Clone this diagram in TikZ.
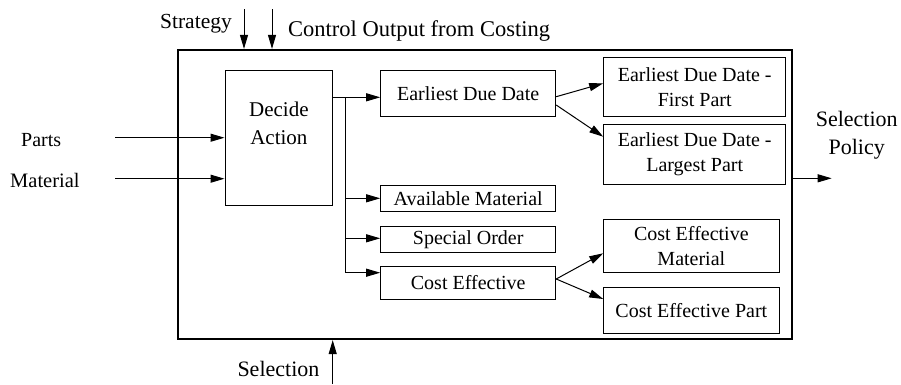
\documentclass[tikz,border=0pt]{standalone}
\usepackage{fontspec}
\setmainfont{Liberation Serif}
\usetikzlibrary{arrows.meta,calc}
\begin{document}
\begin{tikzpicture}[x=1bp,y=1bp,
  box/.style={draw, line width=1bp, rectangle, inner sep=0pt, align=center,
    font=\fontsize{20bp}{25bp}\selectfont},
  lbl/.style={inner sep=0pt},
  arr/.style={line width=1bp, -{Triangle[length=14bp,width=8bp]}},
  ln/.style={line width=1bp}]
\useasboundingbox (0,0) rectangle (901,-384);
% outer box
\node[draw, line width=2.2bp, minimum width=614bp, minimum height=289bp, inner sep=0pt] (outer) at (485,-194.5) {};
% inner boxes
\node[box, minimum width=107.7bp, minimum height=134.3bp] (decide) at (278.85,-137.85) {};
\node[inner sep=0pt, align=center, anchor=base, font=\fontsize{21bp}{27.6bp}\selectfont] (decidetxt) at (278.85,-144.3) {Decide\\Action};
\node[box, minimum width=175bp, minimum height=46bp] (edd) at (468.2,-93.7) {Earliest Due Date};
\node[box, minimum width=182bp, minimum height=59.4bp] (eddf) at (694.7,-87) {Earliest Due Date -\\First Part};
\node[box, minimum width=182bp, minimum height=60bp] (eddl) at (694.7,-154.3) {Earliest Due Date -\\Largest Part};
\node[box, minimum width=175bp, minimum height=26bp] (avail) at (468.2,-198.7) {Available Material};
\node[box, minimum width=175bp, minimum height=25.6bp] (special) at (468.2,-239.5) {Special Order};
\node[box, minimum width=175bp, minimum height=32.6bp] (cost) at (468.2,-283) {Cost Effective};
\node[box, minimum width=175.3bp, minimum height=52.7bp] (cem) at (691.35,-245.65) {Cost Effective\\Material};
\node[box, minimum width=175.3bp, minimum height=45.7bp] (cep) at (691.35,-310.15) {Cost Effective Part};
% labels
\node[lbl, anchor=base east, font=\fontsize{21.5bp}{26bp}\selectfont] (strategy) at (232,-28.3) {Strategy};
\node[lbl, anchor=base west, font=\fontsize{22.5bp}{26bp}\selectfont] (control) at (288,-36) {Control Output from Costing};
\node[lbl, anchor=base west, font=\fontsize{20bp}{24bp}\selectfont] (parts) at (21,-146.7) {Parts};
\node[lbl, anchor=base west, font=\fontsize{20.5bp}{24bp}\selectfont] (material) at (10,-187.3) {Material};
\node[lbl, anchor=base, align=center, font=\fontsize{22bp}{28bp}\selectfont] (selpol) at (856.7,-154) {Selection\\Policy};
\node[lbl, anchor=base west, font=\fontsize{22bp}{26bp}\selectfont] (selection) at (237.3,-376.7) {Selection};
% coordinates
\coordinate (stratTop) at (244,-9);
\coordinate (ctrlTop) at (272,-9);
\coordinate (partsIn) at (115,-137.7);
\coordinate (matIn) at (115,-178.7);
\coordinate (busT) at (345.7,-97.3);
\coordinate (busB) at (345.7,-272.7);
\coordinate (bA) at (345.7,-198.3);
\coordinate (bS) at (345.7,-238.3);
\coordinate (outEnd) at (831.7,-178.3);
\coordinate (selBot) at (332.7,-384);
% connectors
\draw[arr] (stratTop) -- (stratTop |- outer.north);
\draw[arr] (ctrlTop) -- (ctrlTop |- outer.north);
\draw[arr] (partsIn) -- (partsIn -| decide.west);
\draw[arr] (matIn) -- (matIn -| decide.west);
\draw[ln] (decide.east |- busT) -- (busT);
\draw[ln] (busT) -- (busB);
\draw[arr] (busT) -- (busT -| edd.west);
\draw[arr] (bA) -- (bA -| avail.west);
\draw[arr] (bS) -- (bS -| special.west);
\draw[arr] (busB) -- (busB -| cost.west);
\draw[arr] ($(edd.east)+(0,-3)$) -- ($(eddf.west)+(0,3.7)$);
\draw[arr] ($(edd.east)+(0,-11.3)$) -- ($(eddl.west)+(0,17.6)$);
\draw[arr] ($(cost.east)+(0,4)$) -- ($(cem.west)+(0,-7.65)$);
\draw[arr] ($(cost.east)+(0,4)$) -- ($(cep.west)+(0,11.15)$);
\draw[arr] (outEnd -| outer.east) -- (outEnd);
\draw[arr] (selBot) -- (selBot |- outer.south);
\end{tikzpicture}
\end{document}
